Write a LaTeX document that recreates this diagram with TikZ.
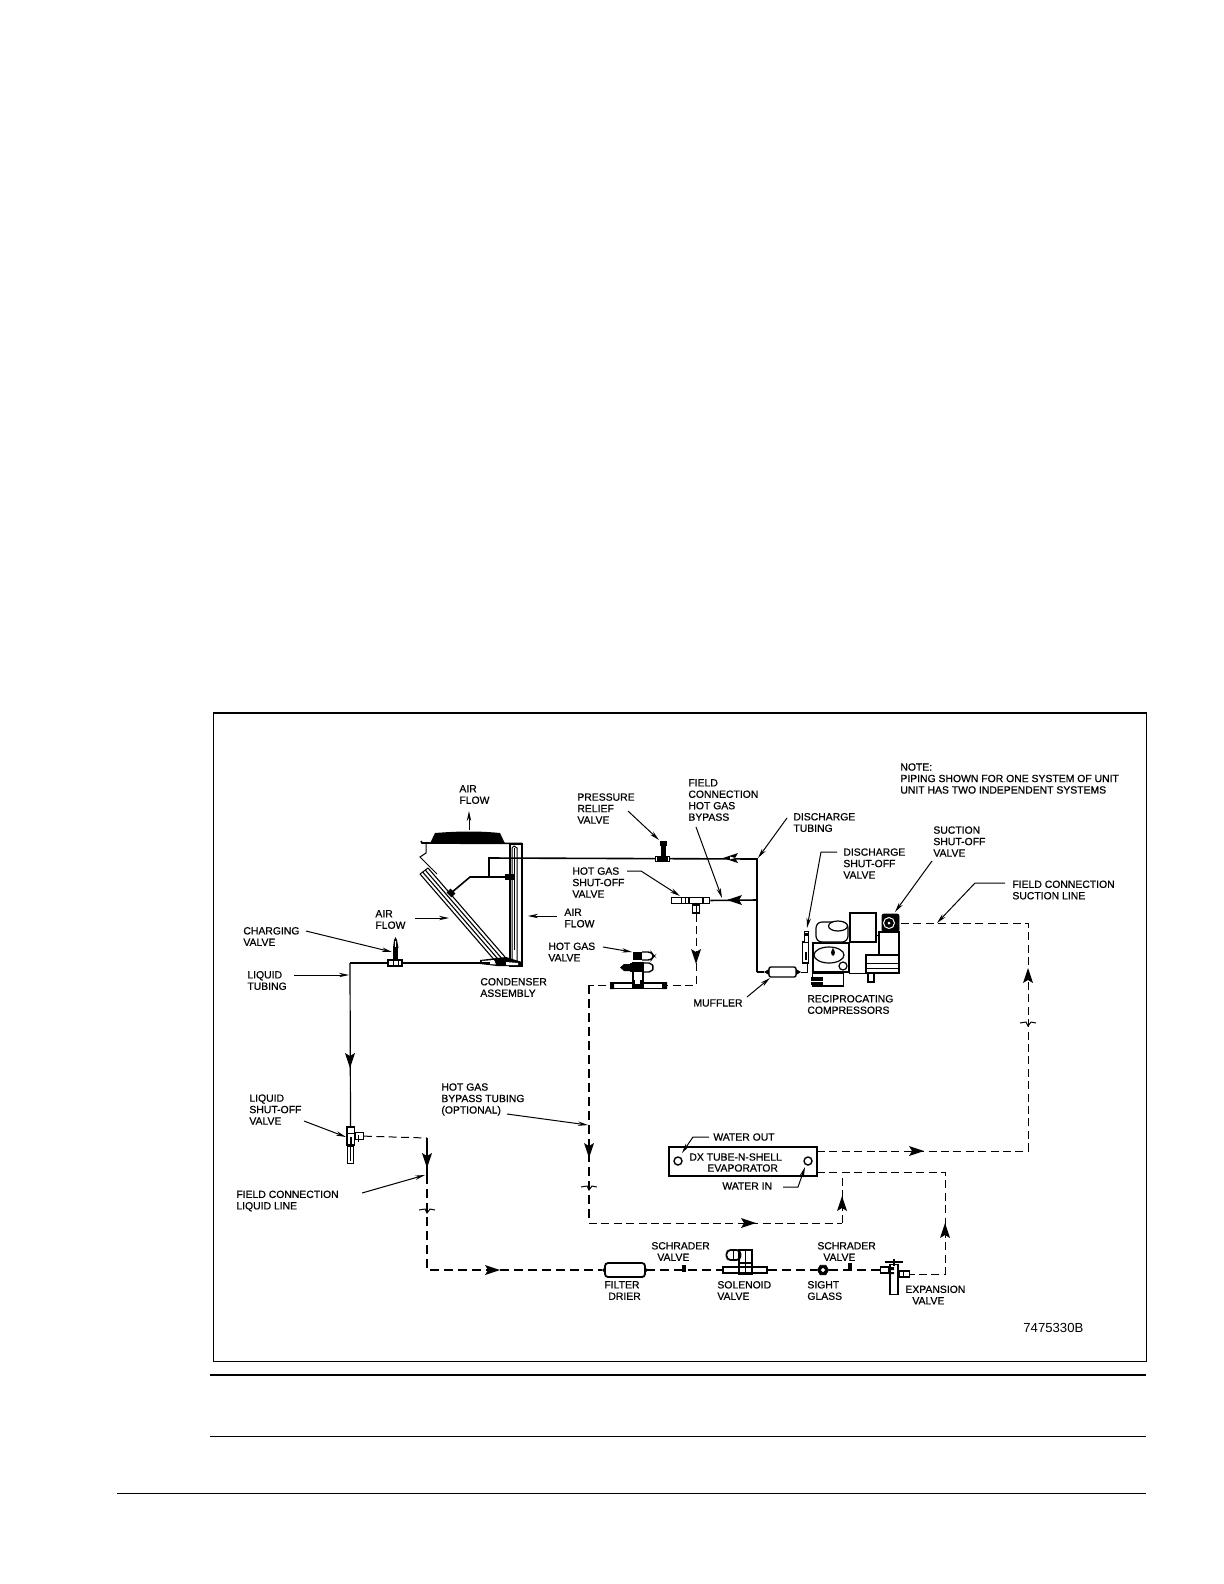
\documentclass[tikz,border=0pt]{standalone}
\usepackage{fontspec}
\newfontfamily\labelfont[FakeBold=0.7]{Liberation Sans}
\usepackage{tikz}
\usetikzlibrary{calc,positioning,arrows.meta,shapes.geometric}
\tikzstyle{lbl}      = [anchor=west,align=left,inner sep=0pt,font=\labelfont\fontsize{5.22}{5.75}\selectfont]
\tikzstyle{leader}   = [line width=0.5bp,-{Stealth[length=5bp,width=2.2bp]}]
\tikzstyle{plain}    = [line width=0.5bp]
\tikzstyle{pipe}     = [line width=0.8bp]
\tikzstyle{gaspipe}  = [line width=0.5bp,dash pattern=on 4bp off 2.2bp]
\tikzstyle{feedpipe} = [line width=0.85bp,dash pattern=on 4.5bp off 2.5bp]
\tikzstyle{part}     = [draw,line width=0.6bp,fill=white,inner sep=0pt]
\tikzstyle{solid part} = [draw,fill=black,inner sep=0pt]
\newcommand{\flowtip}[3]{\fill[shift={(#1,#2)},rotate=#3] (0,0) -- (-15,-5) -- (-12,0) -- (-15,5) -- cycle;}
\newcommand{\breakmark}[2]{\draw[plain,shift={(#1,#2)}] (-8,0) -- (-2,-1) -- (0,3) -- (3,-1) -- (8,0);}

\begin{document}
\begin{tikzpicture}[x=0.5bp,y=-0.5bp]
    \useasboundingbox (0,0) rectangle (1224,1584);

    \node[draw,line width=0.6bp,minimum width=466.5bp,minimum height=324.3bp,inner sep=0pt] (frame) at (680,1037.3) {};
    \coordinate (ruleAL) at (210,1374.7); \coordinate (ruleAR) at (1146,1374.7);
    \coordinate (ruleBL) at (210,1436);   \coordinate (ruleBR) at (1146,1436);
    \coordinate (ruleCL) at (117,1493);   \coordinate (ruleCR) at (1146,1493);
    \draw[line width=1.1bp] (ruleAL) -- (ruleAR);
    \draw[line width=0.5bp] (ruleBL) -- (ruleBR);
    \draw[line width=0.5bp] (ruleCL) -- (ruleCR);

    % condenser
    \fill (430,843.5) -- (435,833) .. controls (460,831) and (480,831) .. (500,833) -- (505,843.5) -- cycle;
    \draw[pipe] (421,841) -- (422,843) -- (522,843.5);
    \draw[plain] (426,843) -- (426,853) -- (420,857) -- (437,874);
    \node[part,line width=0.9bp,minimum width=6bp,minimum height=61bp,fill=none] (condRight) at (516,905) {};
    \draw[plain] (512,962) -- (512,848) -- (514,846) -- (517,848) -- (517,962);
    \draw[plain] (514.5,848) -- (514.5,950);
    \foreach \d in {0,0.33,0.66,1}
        \draw[line width=0.55bp] ($(420,874)!\d!(428,868)$) -- ($(497,963)!\d!(505,957)$);
    \draw[plain] (420,874) -- (428,868);
    \fill (480,960) -- (497,958) -- (506,957) -- (522,962) -- (522,966) -- (497,966) -- (480,964) -- cycle;
    \fill[white] (482,961) -- (494,960) -- (496,964.5) -- (482,963.5) -- cycle;
    \fill[white] (506,962) -- (518,963) -- (518,965) -- (506,965) -- cycle;
    \coordinate (coilDrop) at (489,877);
    \coordinate (coilIn) at (470,877);
    \coordinate (coilEnd) at (451,893);
    \coordinate (tubeTap) at (509,877);
    \draw[pipe] (coilEnd) -- (coilIn) -- (tubeTap);
    \node[solid part,minimum width=4bp,minimum height=2.4bp] (tubeBlob) at (tubeTap) {};
    \node[solid part,minimum width=3bp,minimum height=2.4bp,rotate=-45] (coilBlob) at (coilEnd) {};

    % discharge and liquid piping
    \coordinate (mainTee) at (757,859);
    \coordinate (mainStart) at (489,858);
    \coordinate (branchTee) at (757,900);
    \coordinate (muffTee) at (757,972);
    \coordinate (liquidCorner) at (350,963);
    \coordinate (liquidEnd) at (490,963);
    \draw[pipe] (coilDrop) -- (mainStart) -- (mainTee) -- (muffTee);
    \node[part,fill=white,minimum width=7bp,minimum height=2.6bp] (reliefBase) at (662.5,859) {};
    \fill (657,857) rectangle (668,861);
    \fill (661,841) rectangle (666,857);
    \fill (660,841) rectangle (667,846);

    \node[part,minimum width=6.5bp,minimum height=3.2bp] (hgsoT) at (696,900.5) {};
    \node[part,minimum width=8.5bp,minimum height=3bp,left=0pt of hgsoT] (hgsoL) {};
    \node[part,minimum width=3bp,minimum height=3bp,right=0pt of hgsoT] (hgsoR) {};
    \node[part,minimum width=3.5bp,minimum height=4bp,below=0pt of hgsoT] (hgsoD) {};
    \draw[plain] (681,897) -- (681,903) (685,897) -- (685,903) (696,904) -- (696,912);
    \draw[pipe] (branchTee) -- (hgsoR);

    \draw[pipe] (liquidEnd) -- (liquidCorner);
    \node[part,minimum width=7bp,minimum height=3bp] (chargeFit) at (395,963) {};
    \draw[plain] (393,960) -- (393,966) (398,960) -- (398,966);
    \fill (393,948) rectangle (397.5,960);
    \fill (393,948) -- (394,940) -- (395.5,937) -- (397,940) -- (398.5,948) -- cycle;
    \fill[white] (395,941) rectangle (396,947);

    \node[part,minimum width=3.6bp,minimum height=9bp] (shutBody) at (350.5,1136) {};
    \draw[plain] (347,1133) -- (354,1133);
    \fill (349.5,1137) rectangle (352,1147);
    \node[part,minimum width=3bp,minimum height=8.5bp,below=0pt of shutBody] (shutTail) {};
    \draw[plain] (350,1146) -- (350,1161);
    \node[part,minimum width=4bp,minimum height=3.6bp,right=0pt of shutBody] (shutSide) {};
    \draw[plain] (358,1135) -- (358,1142);
    \draw[pipe,line width=0.6bp] (liquidCorner) -- (shutBody.north);

    % liquid line to the evaporator
    \coordinate (fieldA) at (427,1138);
    \coordinate (fieldB) at (427,1175);
    \coordinate (fieldC) at (427,1270);
    \draw[gaspipe] (shutSide) -- (fieldA);
    \draw[line width=0.8bp] (fieldA) -- (fieldB);
    \draw[feedpipe] (fieldB) -- (fieldC) -- (602,1270);
    \node[part,line width=0.9bp,rounded corners=1.5bp,minimum width=20bp,minimum height=7bp] (drier) at (625,1270) {};
    \node[part,line width=0.9bp,minimum width=22bp,minimum height=3bp] (solPipe) at (745,1270) {};
    \node[solid part,regular polygon,regular polygon sides=6,minimum size=5.5bp] (sight) at (823,1270) {};
    \node[draw=white,fill=white,circle,minimum size=1.6bp,inner sep=0pt] (sightEye) at (823,1270) {};
    \draw[feedpipe] (drier) -- (solPipe);
    \draw[feedpipe] (solPipe) -- (sight);
    \draw[feedpipe] (sight) -- (882,1270);
    \fill (602,1270) -- (605,1267) -- (605,1273) -- cycle;
    \fill (648,1270) -- (645,1267) -- (645,1273) -- cycle;
    \fill (682,1265) rectangle (686,1272);
    \fill (848,1263) rectangle (851.5,1270);

    \node[part,line width=0.9bp,rounded corners=2bp,minimum width=7bp,minimum height=5bp] (solCoil) at (733.5,1255) {};
    \draw[plain] (733,1250) -- (733,1260);
    \draw[line width=0.9bp] (739,1250) rectangle (752,1274);
    \draw[line width=0.6bp] (745.5,1250) -- (745.5,1274) (739,1263) -- (752,1263);

    \node[part,minimum width=4bp,minimum height=15bp,anchor=north] (expBody) at (894,1264) {};
    \node[part,minimum width=4bp,minimum height=3bp,anchor=east] (expL) at (expBody.west |- 0,1270) {};
    \node[part,minimum width=5bp,minimum height=3bp,anchor=west] (expR) at (expBody.east |- 0,1274) {};
    \draw[line width=0.9bp] (885,1262) -- (903,1262);
    \draw[line width=1.2bp] (894,1259) -- (894,1266);
    \draw[plain] (903,1271) -- (903,1277);
    \fill (891,1267) rectangle (894,1270) (891,1272) rectangle (894,1274);

    % evaporator
    \node[draw,line width=0.9bp,minimum width=74bp,minimum height=14.5bp,inner sep=0pt] (evap) at (743,1161.5) {};
    \node[draw,line width=0.7bp,circle,minimum size=4bp,inner sep=0pt] (waterOut) at (678,1161) {};
    \node[draw,line width=0.7bp,circle,minimum size=4bp,inner sep=0pt] (waterIn) at (808,1161) {};

    \coordinate (evapOutA) at (817,1151);
    \coordinate (evapOutB) at (1028,1151);
    \coordinate (evapOutC) at (1028,923);
    \coordinate (evapOutD) at (899,923);
    \draw[gaspipe] (evapOutA) -- (evapOutB) -- (evapOutC) -- (evapOutD);
    \coordinate (evapInA) at (817,1172);
    \coordinate (evapInT) at (842,1172);
    \coordinate (evapInB) at (945,1172);
    \coordinate (evapInC) at (945,1274);
    \draw[gaspipe] (evapInA) -- (evapInB) -- (evapInC) -- (expR);
    \coordinate (bypassA) at (696,985);
    \coordinate (bypassB) at (589,985);
    \coordinate (bypassC) at (589,1223);
    \coordinate (bypassD) at (842,1223);
    \draw[gaspipe] (hgsoD) -- (bypassA) -- (bypassB);
    \draw[gaspipe] (bypassD) -- (evapInT);
    \draw[gaspipe] (bypassC) -- (bypassD);
    \draw[feedpipe,line width=0.7bp] (bypassB) -- (bypassC);

    % hot gas valve
    \node[part,minimum width=28bp,minimum height=2.6bp] (hgvPipe) at (638.5,985.5) {};
    \fill (610,982) rectangle (614,989) (662,982) rectangle (667,989);
    \fill (633,952) rectangle (642,960);
    \draw[line width=0.7bp,rounded corners=1.5bp] (642,952) -- (651,952) -- (654,956) -- (651,960) -- (642,960);
    \node[part,minimum width=5bp,minimum height=12bp] (hgvStem) at (638,975) {};
    \fill (630,963) rectangle (643,972);
    \draw[line width=0.7bp,rounded corners=1bp] (643,963) -- (651,963) -- (654,967.5) -- (651,972) -- (643,972);
    \fill (620,967.5) -- (624,964) -- (630,964) -- (630,971) -- (624,971) -- cycle;
    \fill (632,980) rectangle (644,989);
    \fill[white] (635,975) rectangle (640,984);

    % muffler
    \node[part,line width=0.7bp,rounded corners=1bp,minimum width=13.5bp,minimum height=5bp] (muffler) at (782.5,972) {};
    \coordinate (muffOut) at (807,972);
    \fill (764,972) -- (769,969) -- (769,975) -- cycle;
    \fill (801,972) -- (796,969) -- (796,975) -- cycle;
    \draw[pipe] (muffTee) -- (764,972);
    \draw[plain] (801,972) -- (muffOut) -- (807,963);

    % compressor
    \node[part,minimum width=18bp,minimum height=14.5bp] (crank) at (831,957.5) {};
    \node[part,minimum width=15.5bp,minimum height=6.5bp] (crankLow) at (828,979.5) {};
    \fill (811,977) rectangle (823,985);
    \draw[white,line width=0.3bp] (811,981) -- (823,981);
    \node[part,ellipse,minimum width=15bp,minimum height=8bp] (bowl) at (829,955) {};
    \fill (833,948) .. controls (835,951) and (836,954) .. (833,956) .. controls (830,954) and (831,951) .. (833,948);
    \node[part,circle,minimum size=4bp] (sightPort) at (843,966) {};
    \node[part,rounded corners=3bp,minimum width=16bp,minimum height=10bp] (head) at (832,932) {};
    \node[part,ellipse,minimum width=9.5bp,minimum height=5bp] (headTop) at (838,926) {};
    \node[part,minimum width=13bp,minimum height=14.5bp] (motorA) at (863,927.5) {};
    \node[part,line width=0.8bp,minimum width=10bp,minimum height=11.5bp] (motorB) at (889,943.5) {};
    \node[part,line width=0.8bp,minimum width=16.5bp,minimum height=9bp] (motorBase) at (882.5,964) {};
    \draw[plain] (866,963) -- (899,963) (866,968) -- (899,968);
    \node[part,minimum width=3bp,minimum height=4.5bp] (foot) at (871,977.5) {};
    \draw[plain] (motorA.east |- 0,935) -- (motorB.west |- 0,935);
    \draw[plain] (849,973) -- (866,973);
    \node[solid part,rounded corners=1bp,minimum width=8.5bp,minimum height=9bp] (suctVal) at (890.5,923) {};
    \node[draw=white,fill=black,line width=0.5bp,circle,minimum size=5.5bp,inner sep=0pt] (suctEye) at (889,923) {};
    \fill[white] (889,923) circle (1.5);
    \node[part,line width=0.6bp,minimum width=3.2bp,minimum height=10.5bp] (dischVal) at (805.5,952.5) {};
    \fill (804.5,952) rectangle (807,960);
    \node[part,line width=0.5bp,minimum width=2bp,minimum height=5.5bp] (dischTop) at (806,936.5) {};
    \fill (804.5,933) rectangle (807.5,936);

    % flow arrows
    \flowtip{723}{858}{180}
    \fill[white] (735,858) -- (730,856.6) -- (730,859.4) -- cycle;
    \flowtip{727}{900}{180}
    \flowtip{350}{1068}{-90}
    \flowtip{427}{1168}{-90}
    \flowtip{696}{964}{-90}
    \flowtip{589}{1158}{-90}
    \flowtip{500}{1270}{0}
    \flowtip{756}{1223}{0}
    \flowtip{924}{1151}{0}
    \flowtip{842}{1196}{90}
    \flowtip{945}{1223}{90}
    \flowtip{1028}{968}{90}
    \breakmark{427}{1210}
    \breakmark{589}{1187}
    \breakmark{1028}{1023}

    % labels
    \node[lbl] (lblAirTop) at (459,794.5) {AIR\\FLOW};
    \node[lbl] (lblAirLeft) at (375,919.5) {AIR\\FLOW};
    \node[lbl] (lblAirRight) at (564,918) {AIR\\FLOW};
    \node[lbl] (lblRelief) at (577,808.5) {PRESSURE\\RELIEF\\VALVE};
    \node[lbl] (lblBypass) at (688,800) {FIELD\\CONNECTION\\HOT GAS\\BYPASS};
    \node[lbl] (lblDischTube) at (793,822.5) {DISCHARGE\\TUBING};
    \node[lbl] (lblDischVal) at (843,863.5) {DISCHARGE\\SHUT-OFF\\VALVE};
    \node[lbl] (lblSuctVal) at (933,841.5) {SUCTION\\SHUT-OFF\\VALVE};
    \node[lbl] (lblSuctLine) at (1012,890) {FIELD CONNECTION\\SUCTION LINE};
    \node[lbl] (lblNote) at (900,778.5) {NOTE:\\PIPING SHOWN FOR ONE SYSTEM OF UNIT\\UNIT HAS TWO INDEPENDENT SYSTEMS};
    \node[lbl] (lblHgso) at (572,882.5) {HOT GAS\\SHUT-OFF\\VALVE};
    \node[lbl] (lblHgv) at (548,952) {HOT GAS\\VALVE};
    \node[lbl] (lblCharge) at (243,936.5) {CHARGING\\VALVE};
    \node[lbl] (lblLiquidTube) at (247,980.5) {LIQUID\\TUBING};
    \node[lbl] (lblCond) at (480,987.5) {CONDENSER\\ASSEMBLY};
    \node[lbl] (lblMuffler) at (693,1003) {MUFFLER};
    \node[lbl] (lblRecip) at (807,1004.5) {RECIPROCATING\\COMPRESSORS};
    \node[lbl] (lblLiquidVal) at (249,1109.5) {LIQUID\\SHUT-OFF\\VALVE};
    \node[lbl] (lblLiquidLine) at (236,1201) {FIELD CONNECTION\\LIQUID LINE};
    \node[lbl] (lblHgTube) at (441,1099.5) {HOT GAS\\BYPASS TUBING\\(OPTIONAL)};
    \node[lbl] (lblWaterOut) at (713,1137) {WATER OUT};
    \node[lbl] (lblWaterIn) at (722,1186) {WATER IN};
    \node[lbl] (lblEvapA) at (689,1157) {DX TUBE-N-SHELL};
    \node[lbl] (lblEvapB) at (707,1168) {EVAPORATOR};
    \node[lbl] (lblSchrA) at (651,1251.5) {SCHRADER\\\hspace*{3pt}VALVE};
    \node[lbl] (lblSchrB) at (817,1251.5) {SCHRADER\\\hspace*{3pt}VALVE};
    \node[lbl] (lblFilter) at (604,1290.5) {FILTER\\\hspace*{2pt}DRIER};
    \node[lbl] (lblSolenoid) at (717,1290.5) {SOLENOID\\VALVE};
    \node[lbl] (lblSight) at (807,1290.5) {SIGHT\\GLASS};
    \node[lbl] (lblExp) at (905,1295) {EXPANSION\\\hspace*{3.5pt}VALVE};
    \node[lbl,font=\fontspec{Liberation Sans}\fontsize{6.6}{7}\selectfont] (lblDrawing) at (1023,1328) {7475330B};

    % leaders
    \coordinate (airTopA) at (469,830);   \coordinate (airTopB) at (469,811);
    \coordinate (airLeftA) at (415,918);  \coordinate (airLeftB) at (449,918);
    \coordinate (airRightA) at (557,916); \coordinate (airRightB) at (528,916);
    \draw[leader] (airTopA) -- (airTopB);
    \draw[leader] (airLeftA) -- (airLeftB);
    \draw[leader] (airRightA) -- (airRightB);

    \coordinate (reliefA) at (628,811);   \coordinate (reliefB) at (659,840);
    \coordinate (fieldHgA) at (696,827);  \coordinate (fieldHgB) at (722,898);
    \coordinate (dischA) at (787,818);    \coordinate (dischB) at (758,858);
    \coordinate (chargeA) at (306,931);   \coordinate (chargeB) at (392,952);
    \coordinate (liqTubeA) at (294,975);  \coordinate (liqTubeB) at (349,975);
    \coordinate (liqValA) at (304,1121);  \coordinate (liqValB) at (346,1137);
    \coordinate (liqLineA) at (362,1193); \coordinate (liqLineB) at (425,1175);
    \coordinate (hgTubeA) at (507,1114);  \coordinate (hgTubeB) at (588,1125);
    \coordinate (hgvA) at (603,947);      \coordinate (hgvB) at (632,952);
    \coordinate (muffA) at (747,997);     \coordinate (muffB) at (770,978);
    \coordinate (suctA) at (932,861);     \coordinate (suctB) at (895,912);
    \draw[leader] (reliefA) -- (reliefB);
    \draw[leader] (fieldHgA) -- (fieldHgB);
    \draw[leader] (dischA) -- (dischB);
    \draw[leader] (chargeA) -- (chargeB);
    \draw[leader] (liqTubeA) -- (liqTubeB);
    \draw[leader] (liqValA) -- (liqValB);
    \draw[leader] (liqLineA) -- (liqLineB);
    \draw[leader] (hgTubeA) -- (hgTubeB);
    \draw[leader] (hgvA) -- (hgvB);
    \draw[leader] (muffA) -- (muffB);
    \draw[leader] (suctA) -- (suctB);

    \coordinate (hgsoA) at (627,871);     \coordinate (hgsoK) at (641,871);    \coordinate (hgsoB) at (680,896);
    \coordinate (dischValA) at (837,852); \coordinate (dischValK) at (821,852); \coordinate (dischValB) at (807,928);
    \coordinate (suctLineA) at (1005,883); \coordinate (suctLineK) at (975,883); \coordinate (suctLineB) at (937,923);
    \coordinate (wOutA) at (709,1137);    \coordinate (wOutK) at (693,1137);   \coordinate (wOutB) at (682,1153);
    \coordinate (wInA) at (783,1187);     \coordinate (wInK) at (798,1187);    \coordinate (wInB) at (805,1167);
    \draw[leader] (hgsoA) -- (hgsoK) -- (hgsoB);
    \draw[leader] (dischValA) -- (dischValK) -- (dischValB);
    \draw[leader] (suctLineA) -- (suctLineK) -- (suctLineB);
    \draw[leader] (wOutA) -- (wOutK) -- (wOutB);
    \draw[leader] (wInA) -- (wInK) -- (wInB);
\end{tikzpicture}
\end{document}
